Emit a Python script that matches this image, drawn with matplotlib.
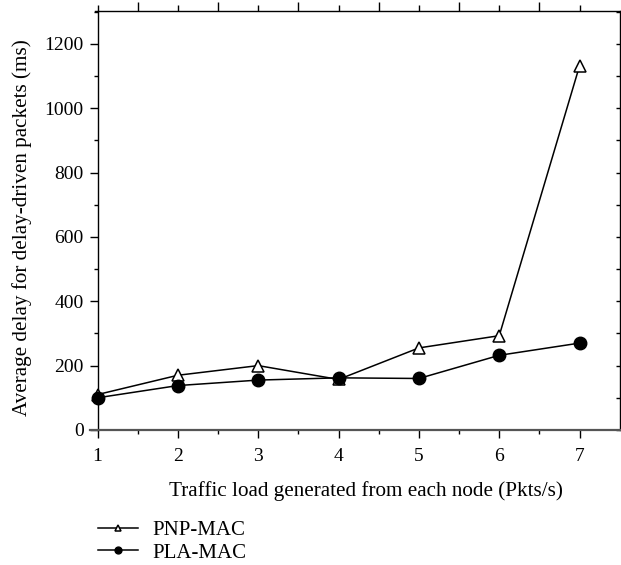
import matplotlib
matplotlib.use('Agg')
import matplotlib.pyplot as plt
from matplotlib.ticker import MultipleLocator, FixedLocator, NullFormatter
import numpy as np

# values
load = [1, 2, 3, 4, 5, 6, 7]
pnp_mac = [110, 170, 200, 157, 255, 293, 1132]
pla_mac = [100, 138, 155, 162, 160, 232, 270]

plt.rcParams['font.family'] = ['Liberation Serif', 'DejaVu Serif']
plt.rcParams['font.size'] = 14

fig = plt.figure(figsize=(6.21, 5.65), dpi=100)
ax = fig.add_axes([0.145, 0.239, 0.853, 0.7415])

l1, = ax.plot(load, pnp_mac, color='black', lw=1.1, marker='^', markersize=9,
              markerfacecolor='white', markeredgecolor='black', markeredgewidth=1.1,
              label='PNP-MAC', zorder=3)
l2, = ax.plot(load, pla_mac, color='black', lw=1.1, marker='o', markersize=9,
              markerfacecolor='black', label='PLA-MAC', zorder=4)

ax.set_xlim(0.907, 7.5)
ax.set_ylim(0, 1302)

ax.spines['left'].set_position(('data', 1))
ax.spines['top'].set_bounds(0.97, 7.5)
ax.spines['bottom'].set_color('#555555')
ax.spines['bottom'].set_linewidth(1.6)
for s in ['left', 'top', 'right']:
    ax.spines[s].set_linewidth(1.0)

ax.xaxis.set_major_locator(FixedLocator(load))
ax.xaxis.set_minor_locator(FixedLocator([1.5, 2.5, 3.5, 4.5, 5.5, 6.5]))
ax.yaxis.set_major_locator(MultipleLocator(200))
ax.yaxis.set_minor_locator(MultipleLocator(100))
ax.tick_params(axis='both', which='major', direction='out', length=6, width=1)
ax.tick_params(axis='both', which='minor', direction='out', length=3, width=1)
ax.tick_params(axis='x', which='both', top=False)
ax.tick_params(axis='x', which='major', pad=7)
ax.tick_params(axis='y', which='both', right=False)
ax.tick_params(axis='y', which='major', pad=4)

# top axis ticks sit half a step off the bottom ones
top = ax.secondary_xaxis('top')
top.xaxis.set_major_locator(FixedLocator([1.5, 2.5, 3.5, 4.5, 5.5, 6.5]))
top.xaxis.set_minor_locator(FixedLocator(load))
top.xaxis.set_major_formatter(NullFormatter())
top.tick_params(which='major', direction='out', length=6.5, width=1)
top.tick_params(which='minor', direction='out', length=4, width=1)
top.spines['top'].set_visible(False)

right = ax.secondary_yaxis('right')
right.yaxis.set_major_locator(MultipleLocator(100))
right.yaxis.set_major_formatter(NullFormatter())
right.tick_params(which='major', direction='in', length=3, width=1)
right.spines['right'].set_visible(False)

ax.set_xlabel('Traffic load generated from each node (Pkts/s)', fontsize=15.2)
ax.xaxis.set_label_coords(0.52, -0.122)
ax.set_ylabel('Average delay for delay-driven packets (ms)', fontsize=15.2)
ax.yaxis.set_label_coords(-0.109, 0.482)

fig.legend(handles=[l1, l2], loc='upper left', bbox_to_anchor=(0.158, 0.079),
           frameon=False, markerscale=0.55, handlelength=1.9, handletextpad=0.7,
           labelspacing=0.15, borderpad=0, borderaxespad=0, fontsize=15)

fig.savefig('out.png', dpi=100)
